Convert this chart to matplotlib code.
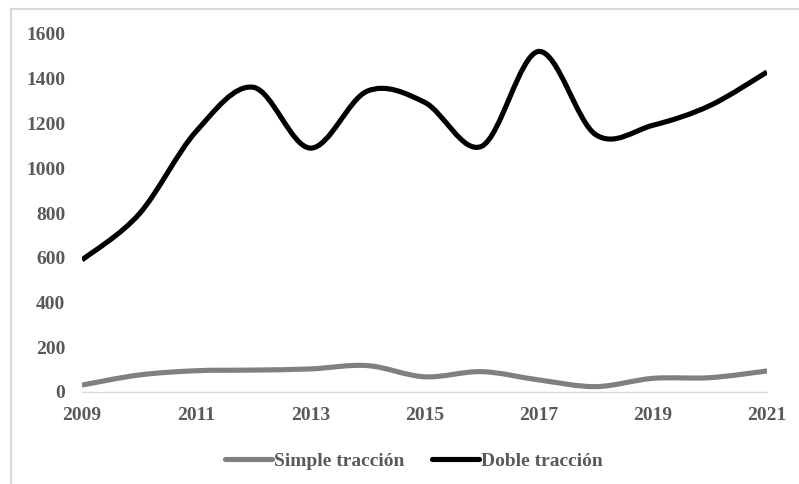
import numpy as np
import matplotlib
matplotlib.use("Agg")
import matplotlib.pyplot as plt
from matplotlib.path import Path
from matplotlib.patches import PathPatch
from matplotlib.lines import Line2D

years = [2009, 2010, 2011, 2012, 2013, 2014, 2015, 2016, 2017, 2018, 2019, 2020, 2021]
simple_traccion = [31, 76, 95, 98, 103, 118, 68, 91, 54, 24, 61, 64, 94]
doble_traccion = [590, 795, 1165, 1362, 1090, 1345, 1295, 1098, 1522, 1150, 1192, 1280, 1430]
xtick_labels = ["2009", "2011", "2013", "2015", "2017", "2019", "2021"]
yticks = [0, 200, 400, 600, 800, 1000, 1200, 1400, 1600]

FONT = "Liberation Serif"
TXT = "#595959"
FS = 14

fig = plt.figure(figsize=(7.99, 4.84), dpi=100)
ax = fig.add_axes([82/799, 1-392/484, (767-82)/799, (392-34)/484])


def smooth_path(xs, ys):
    xs = np.asarray(xs, float)
    ys = np.asarray(ys, float)
    n = len(xs)
    verts = [(xs[0], ys[0])]
    codes = [Path.MOVETO]
    for i in range(n - 1):
        i0 = max(i - 1, 0)
        i3 = min(i + 2, n - 1)
        c1 = (xs[i] + (xs[i+1] - xs[i0]) / 6, ys[i] + (ys[i+1] - ys[i0]) / 6)
        c2 = (xs[i+1] - (xs[i3] - xs[i]) / 6, ys[i+1] - (ys[i3] - ys[i]) / 6)
        verts += [c1, c2, (xs[i+1], ys[i+1])]
        codes += [Path.CURVE4] * 3
    return Path(verts, codes)


for data, col in [(simple_traccion, "#808080"), (doble_traccion, "#000000")]:
    p = PathPatch(smooth_path(years, data), facecolor="none", edgecolor=col,
                  lw=3.7, capstyle="butt", joinstyle="round")
    ax.add_patch(p)

ax.set_xlim(2009, 2021)
ax.set_ylim(0, 1600)
ax.set_xticks([int(t) for t in xtick_labels])
ax.set_xticklabels(xtick_labels)
ax.set_yticks(yticks)
ax.set_yticklabels([str(v) for v in yticks])
for s in ["top", "right", "left"]:
    ax.spines[s].set_visible(False)
ax.spines["bottom"].set_color("#d9d9d9")
ax.spines["bottom"].set_linewidth(1.0)
ax.tick_params(axis="both", length=0)
ax.tick_params(axis="y", pad=12)
ax.tick_params(axis="x", pad=11)
for lab in ax.get_xticklabels() + ax.get_yticklabels():
    lab.set_fontfamily(FONT)
    lab.set_fontweight("bold")
    lab.set_fontsize(FS)
    lab.set_color(TXT)

handles = [Line2D([], [], color="#808080", lw=3.7, solid_capstyle="round"),
           Line2D([], [], color="#000000", lw=3.7, solid_capstyle="round")]
leg = fig.legend(handles, ["Simple tracción", "Doble tracción"], loc="center",
                 bbox_to_anchor=(414/799, 1-461/484), ncol=2, frameon=False,
                 handlelength=2.4, handletextpad=0.12, columnspacing=1.45,
                 prop={"family": FONT, "weight": "bold", "size": FS})
for t in leg.get_texts():
    t.set_color(TXT)

# outer chart border (top and left visible)
fig.add_artist(Line2D([11/799, 11/799], [0, 1-8.5/484], transform=fig.transFigure,
                      color="#d9d9d9", lw=1.5))
fig.add_artist(Line2D([11/799, 1], [1-8.5/484, 1-8.5/484], transform=fig.transFigure,
                      color="#d9d9d9", lw=1.5))

fig.savefig("out.png", dpi=100)
